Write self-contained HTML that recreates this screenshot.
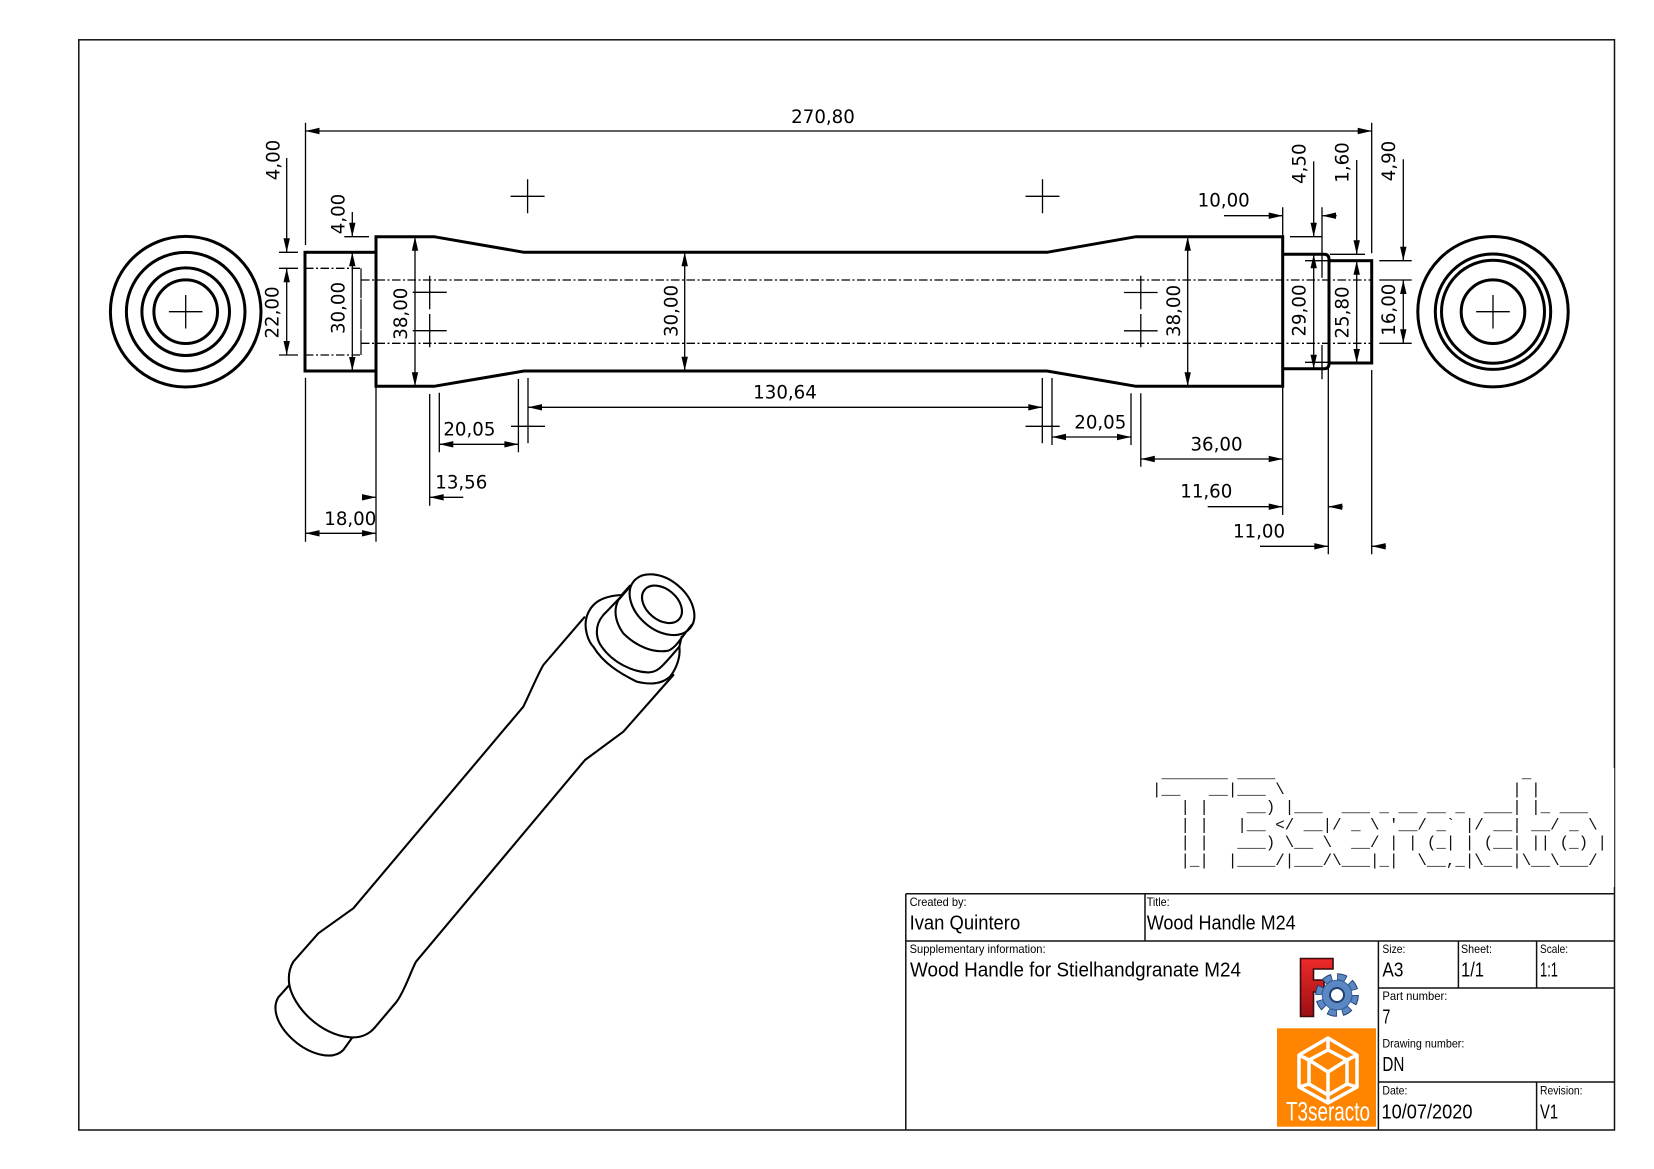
<!DOCTYPE html>
<html><head><meta charset="utf-8"><title>Wood Handle M24</title>
<style>
html,body{margin:0;padding:0;background:#fff}
svg{display:block}
.th{fill:none;stroke:#000;stroke-width:3}
.dm line,.dm path{stroke:#000;stroke-width:1.3;fill:none}
.dt text{font-family:"DejaVu Sans",sans-serif;font-size:18.2px;fill:#000;text-anchor:middle}
.cl{stroke:#000;stroke-width:1.3;stroke-dasharray:8.5 2.5 2 2.5;fill:none}
.tb line,.tb rect{stroke:#111;stroke-width:1.5;fill:none}
.tl text{font-family:"Liberation Sans",sans-serif;fill:#000;font-size:20px}
.tl text.s{font-size:12px}
.iso *{fill:none;stroke:#000;stroke-width:6.3;stroke-linejoin:round;stroke-linecap:round}
.asc{font-family:"Liberation Mono",monospace;font-size:15.8px;fill:#111;white-space:pre}
</style></head><body>
<svg xmlns="http://www.w3.org/2000/svg" width="1654" height="1169" viewBox="0 0 1654 1169">
<defs>
<linearGradient id="fg" x1="0" y1="0" x2="0" y2="1"><stop offset="0" stop-color="#ee2a2a"/><stop offset="1" stop-color="#9c0f14"/></linearGradient>
<marker id="ae" markerUnits="userSpaceOnUse" markerWidth="16" markerHeight="8" refX="14" refY="0" orient="auto" overflow="visible"><path d="M0,-3.2 L14,0 L0,3.2Z" fill="#000"/></marker>
<marker id="as" markerUnits="userSpaceOnUse" markerWidth="16" markerHeight="8" refX="0" refY="0" orient="auto" overflow="visible"><path d="M14,-3.2 L0,0 L14,3.2Z" fill="#000"/></marker>
</defs>
<rect width="1654" height="1169" fill="#fff"/>
<rect x="78.8" y="39.8" width="1535.7" height="1090.2" fill="none" stroke="#111" stroke-width="1.5"/>

<!-- ascii banner -->
<rect x="1140" y="768" width="474.2" height="119" fill="#fff"/>
<g class="asc">
<text x="1152" y="777.5" xml:space="preserve"> _______ ____                          _</text>
<text x="1152" y="793.8" xml:space="preserve">|__   __|___ \                        | |</text>
<text x="1152" y="811.6" xml:space="preserve">   | |    __) |___  ___ _ __ __ _  ___| |_ ___</text>
<text x="1152" y="829.4" xml:space="preserve">   | |   |__ &lt;/ __|/ _ \ '__/ _` |/ __| __/ _ \</text>
<text x="1152" y="847.2" xml:space="preserve">   | |   ___) \__ \  __/ | | (_| | (__| || (_) |</text>
<text x="1152" y="865" xml:space="preserve">   |_|  |____/|___/\___|_|  \__,_|\___|\__\___/</text>
</g>

<!-- left and right end views -->
<g class="th">
<circle cx="185.7" cy="311.7" r="75.3"/><circle cx="185.7" cy="311.7" r="59.3"/><circle cx="185.7" cy="311.7" r="43.8"/><circle cx="185.7" cy="311.7" r="31.8"/>
<circle cx="1493" cy="311.7" r="75.2"/><circle cx="1493" cy="311.7" r="57.7"/><circle cx="1493" cy="311.7" r="51.5"/><circle cx="1493" cy="311.7" r="31.8"/>
<!-- body -->
<rect x="305" y="252.3" width="71" height="118.7"/>
<path d="M376,236.7 H434 L524,252.3 H1047 L1136,236.7 H1282.7 V386.3 H1136 L1047,371 H524 L434,386.3 H376 Z"/>
<path d="M1282.7,254.3 H1324 Q1329,254.3 1329,259.3 V363.7 Q1329,368.7 1324,368.7 H1282.7"/>
<rect x="1329" y="260.7" width="42.7" height="102.3"/>
</g>
<path class="cl" d="M305,268.3 H361 M305,355 H361 M361,280 H1371.7 M361,343.3 H1371.7"/>
<path d="M361,268.3 V355" stroke="#000" stroke-width="1.2" fill="none" stroke-dasharray="30 1"/>

<g class="dm">
<!-- crosses -->
<path d="M168.9,311.7 H202.5 M185.7,295 V328.5 M1476.2,311.7 H1509.8 M1493,295 V328.5"/>
<path d="M510.6,196.3 H544.6 M527.6,179.3 V213.3 M1025.5,196.3 H1059.5 M1042.5,179.3 V213.3"/>
<path d="M412.7,292.3 H446.7 M429.7,275.7 V309.3 M412.7,330.7 H446.7 M429.7,314 V347.3"/>
<path d="M1124,292.5 H1157.6 M1140.8,275.7 V309.3 M1124,330.8 H1157.6 M1140.8,314 V347.3"/>
<path d="M511,426.3 H545 M1025.5,426.3 H1059.7"/>
<path d="M1305,260.7 H1339 M1305,362.3 H1339"/>
<!-- extension lines -->
<path d="M305.5,122.7 V245 M1371.7,122.7 V253.3 M279,252.3 H298 M279,268.3 H298 M279,355 H298 M344.3,236.7 H369"/>
<path d="M305.5,377.7 V541.7 M376,386 V541.7 M429.7,394 V505.7 M439.3,392.7 V452.3 M518.4,379 V452.3 M528,378 V443.3 M1042.3,378 V443.3 M1052,378 V445 M1131,393.3 V445 M1140.8,393.3 V466.7 M1282.7,386 V515 M1328.3,368 V554.3 M1371.7,370 V554.3"/>
<path d="M1282.7,207.3 V254 M1322,207.3 V277.7 M1322,345 V379.3 M1290,236.7 H1322 M1330,254.3 H1365 M1379.3,260.7 H1411.7 M1379.3,280 H1411.7 M1379.3,343.3 H1411.7"/>
<!-- dimension lines -->
<line x1="305.5" y1="131" x2="1371.7" y2="131" marker-start="url(#as)" marker-end="url(#ae)"/>
<line x1="286.7" y1="158" x2="286.7" y2="252.3" marker-end="url(#ae)"/>
<line x1="286.7" y1="268.3" x2="286.7" y2="355" marker-start="url(#as)" marker-end="url(#ae)"/>
<line x1="352.3" y1="212" x2="352.3" y2="236.7" marker-end="url(#ae)"/>
<line x1="352.3" y1="252.3" x2="352.3" y2="371" marker-start="url(#as)" marker-end="url(#ae)"/>
<line x1="415" y1="236.7" x2="415" y2="386.3" marker-start="url(#as)" marker-end="url(#ae)"/>
<line x1="684.7" y1="252.3" x2="684.7" y2="370.7" marker-start="url(#as)" marker-end="url(#ae)"/>
<line x1="1187.7" y1="236.7" x2="1187.7" y2="386.3" marker-start="url(#as)" marker-end="url(#ae)"/>
<line x1="528" y1="407.3" x2="1042.3" y2="407.3" marker-start="url(#as)" marker-end="url(#ae)"/>
<line x1="439.3" y1="444.3" x2="518.4" y2="444.3" marker-start="url(#as)" marker-end="url(#ae)"/>
<line x1="1052" y1="437" x2="1131" y2="437" marker-start="url(#as)" marker-end="url(#ae)"/>
<line x1="1140.8" y1="459" x2="1282.7" y2="459" marker-start="url(#as)" marker-end="url(#ae)"/>
<line x1="429.7" y1="497.3" x2="463.3" y2="497.3" marker-start="url(#as)"/>
<line x1="362" y1="497.3" x2="376" y2="497.3" marker-end="url(#ae)"/>
<line x1="305.5" y1="533.3" x2="376" y2="533.3" marker-start="url(#as)" marker-end="url(#ae)"/>
<line x1="1207.7" y1="506.7" x2="1282.7" y2="506.7" marker-end="url(#ae)"/>
<line x1="1328.3" y1="506.7" x2="1342.7" y2="506.7" marker-start="url(#as)"/>
<line x1="1260" y1="546.3" x2="1328.3" y2="546.3" marker-end="url(#ae)"/>
<line x1="1371.7" y1="546.3" x2="1386" y2="546.3" marker-start="url(#as)"/>
<line x1="1224" y1="215.7" x2="1282.7" y2="215.7" marker-end="url(#ae)"/>
<line x1="1322" y1="215.7" x2="1336.7" y2="215.7" marker-start="url(#as)"/>
<line x1="1313.7" y1="161.3" x2="1313.7" y2="236.7" marker-end="url(#ae)"/>
<line x1="1313.7" y1="254.3" x2="1313.7" y2="368.7" marker-start="url(#as)" marker-end="url(#ae)"/>
<line x1="1356.7" y1="160" x2="1356.7" y2="254.3" marker-end="url(#ae)"/>
<line x1="1356.7" y1="260.7" x2="1356.7" y2="363" marker-start="url(#as)" marker-end="url(#ae)"/>
<line x1="1403.3" y1="159.3" x2="1403.3" y2="260.7" marker-end="url(#ae)"/>
<line x1="1403.3" y1="280" x2="1403.3" y2="343.3" marker-start="url(#as)" marker-end="url(#ae)"/>
</g>

<g class="dt">
<text x="823" y="122.8">270,80</text>
<text x="785" y="398.3">130,64</text>
<text x="469.4" y="435.3">20,05</text>
<text x="1100.3" y="428.6">20,05</text>
<text x="461.3" y="488.6">13,56</text>
<text x="350.3" y="525">18,00</text>
<text x="1216.5" y="450.3">36,00</text>
<text x="1206.3" y="497.6">11,60</text>
<text x="1259" y="537.6">11,00</text>
<text x="1223.7" y="206.6">10,00</text>
<text transform="translate(279.5,160) rotate(-90)">4,00</text>
<text transform="translate(278.5,312.5) rotate(-90)">22,00</text>
<text transform="translate(344.5,214) rotate(-90)">4,00</text>
<text transform="translate(344.5,308) rotate(-90)">30,00</text>
<text transform="translate(407,313.7) rotate(-90)">38,00</text>
<text transform="translate(677.5,311) rotate(-90)">30,00</text>
<text transform="translate(1180,311) rotate(-90)">38,00</text>
<text transform="translate(1305.5,163.7) rotate(-90)">4,50</text>
<text transform="translate(1305.5,310.5) rotate(-90)">29,00</text>
<text transform="translate(1348.5,162.5) rotate(-90)">1,60</text>
<text transform="translate(1348.5,312.5) rotate(-90)">25,80</text>
<text transform="translate(1395.2,161) rotate(-90)">4,90</text>
<text transform="translate(1395.2,309.7) rotate(-90)">16,00</text>
</g>

<!-- isometric view -->
<g class="iso" transform="translate(250,560) scale(.33333)">
<path d="M1003,172 L880,315 C860,350 840,400 820,440 L310,1045 L205,1120 L130,1205 Q112,1235 118,1275"/>
<path d="M118,1275 C130,1340 210,1425 300,1432 C335,1435 360,1420 375,1402 L440,1325 C465,1290 480,1240 498,1205 L1005,600 L1120,515 L1270,345"/>
<path d="M118,1275 L85,1312 C65,1345 80,1395 130,1440 C175,1480 245,1505 280,1470 L305,1435"/>
<path d="M1140,77 L1115,105 C1060,108 1025,125 1010,170 C1000,205 1015,245 1030,260 C1060,310 1110,340 1160,365 C1200,375 1235,372 1260,350 C1280,325 1292,290 1288,260"/>
<path d="M1115,108 L1060,165 C1030,200 1040,240 1055,260 C1090,310 1150,335 1190,337 C1225,340 1240,315 1288,260 L1295,230"/>
<path d="M1140,80 L1105,120 C1085,160 1105,200 1120,220 C1160,260 1210,280 1255,272 C1280,262 1295,230 1325,195"/>
<ellipse cx="1236" cy="134" rx="110" ry="75" transform="rotate(40 1236 134)"/>
<ellipse cx="1236" cy="133" rx="68" ry="46" transform="rotate(40 1236 133)"/>
</g>

<!-- title block -->
<g class="tb">
<line x1="905.8" y1="893.7" x2="1614.5" y2="893.7"/>
<line x1="905.8" y1="893.7" x2="905.8" y2="1130"/>
<line x1="905.8" y1="941" x2="1614.5" y2="941"/>
<line x1="1145" y1="893.7" x2="1145" y2="941"/>
<line x1="1378.4" y1="941" x2="1378.4" y2="1130"/>
<line x1="1458.4" y1="941" x2="1458.4" y2="988"/>
<line x1="1536.6" y1="941" x2="1536.6" y2="988"/>
<line x1="1378.4" y1="988" x2="1614.5" y2="988"/>
<line x1="1378.4" y1="1082" x2="1614.5" y2="1082"/>
<line x1="1536.6" y1="1082" x2="1536.6" y2="1130"/>
</g>
<g class="tl">
<text class="s" x="909.6" y="906" textLength="57" lengthAdjust="spacingAndGlyphs">Created by:</text>
<text x="909.6" y="929.3" textLength="110.6" lengthAdjust="spacingAndGlyphs">Ivan Quintero</text>
<text class="s" x="1146.7" y="906" textLength="23" lengthAdjust="spacingAndGlyphs">Title:</text>
<text x="1146.7" y="929.3" textLength="149" lengthAdjust="spacingAndGlyphs">Wood Handle M24</text>
<text class="s" x="909.6" y="953" textLength="136" lengthAdjust="spacingAndGlyphs">Supplementary information:</text>
<text x="910" y="976.7" textLength="331" lengthAdjust="spacingAndGlyphs">Wood Handle for Stielhandgranate M24</text>
<text class="s" x="1382.4" y="953" textLength="23" lengthAdjust="spacingAndGlyphs">Size:</text>
<text x="1382.4" y="976.7" textLength="21" lengthAdjust="spacingAndGlyphs">A3</text>
<text class="s" x="1461" y="953" textLength="31" lengthAdjust="spacingAndGlyphs">Sheet:</text>
<text x="1461" y="976.7" textLength="23" lengthAdjust="spacingAndGlyphs">1/1</text>
<text class="s" x="1540" y="953" textLength="28" lengthAdjust="spacingAndGlyphs">Scale:</text>
<text x="1540" y="976.7" textLength="18" lengthAdjust="spacingAndGlyphs">1:1</text>
<text class="s" x="1382.4" y="1000" textLength="65" lengthAdjust="spacingAndGlyphs">Part number:</text>
<text x="1382.4" y="1023.3" textLength="8" lengthAdjust="spacingAndGlyphs">7</text>
<text class="s" x="1382.4" y="1047.3" textLength="82" lengthAdjust="spacingAndGlyphs">Drawing number:</text>
<text x="1382.4" y="1071" textLength="22" lengthAdjust="spacingAndGlyphs">DN</text>
<text class="s" x="1382.4" y="1094.5" textLength="25" lengthAdjust="spacingAndGlyphs">Date:</text>
<text x="1381.5" y="1118.3" textLength="91" lengthAdjust="spacingAndGlyphs">10/07/2020</text>
<text class="s" x="1540" y="1094.5" textLength="42.5" lengthAdjust="spacingAndGlyphs">Revision:</text>
<text x="1540" y="1118.3" textLength="18" lengthAdjust="spacingAndGlyphs">V1</text>
</g>

<!-- FreeCAD logo -->
<path d="M1300.5,958.5 H1333 V969 H1313.5 V980 H1324 V992 H1313.5 V1016.5 H1300.5 Z" fill="url(#fg)" stroke="#3a0a0c" stroke-width="1.6"/>
<circle cx="1337" cy="995" r="18.2" fill="none" stroke="#1f3f73" stroke-width="7.2" stroke-dasharray="9 5.3"/>
<circle cx="1337" cy="995" r="18.2" fill="none" stroke="#5b88c2" stroke-width="5.2" stroke-dasharray="7.4 6.9" stroke-dashoffset="-0.8"/>
<circle cx="1337" cy="995" r="14.8" fill="#5b88c2" stroke="#3a68a4" stroke-width="1"/>
<circle cx="1337" cy="995" r="7" fill="#fff" stroke="#1f3f73" stroke-width="2"/>

<!-- T3seracto logo -->
<rect x="1277" y="1028.3" width="99" height="98.4" fill="#ff8400"/>
<g fill="none" stroke="#fff" stroke-width="3.5" stroke-linejoin="round">
<polygon points="1328,1038 1357,1055 1357,1087 1328,1103 1299,1087 1299,1055"/>
<polygon points="1328,1050 1347,1060 1347,1084 1328,1095 1309,1084 1309,1060"/>
<path d="M1309,1060 L1328,1072 L1347,1060 M1328,1072 V1103 M1299,1055 L1309,1060 M1357,1055 L1347,1060 M1328,1038 V1050 M1299,1087 L1309,1084 M1357,1087 L1347,1084"/>
</g>
<text x="1286" y="1120.3" font-family="'Liberation Sans',sans-serif" font-size="27" fill="#fff" textLength="84" lengthAdjust="spacingAndGlyphs">T3seracto</text>
</svg>
</body></html>
